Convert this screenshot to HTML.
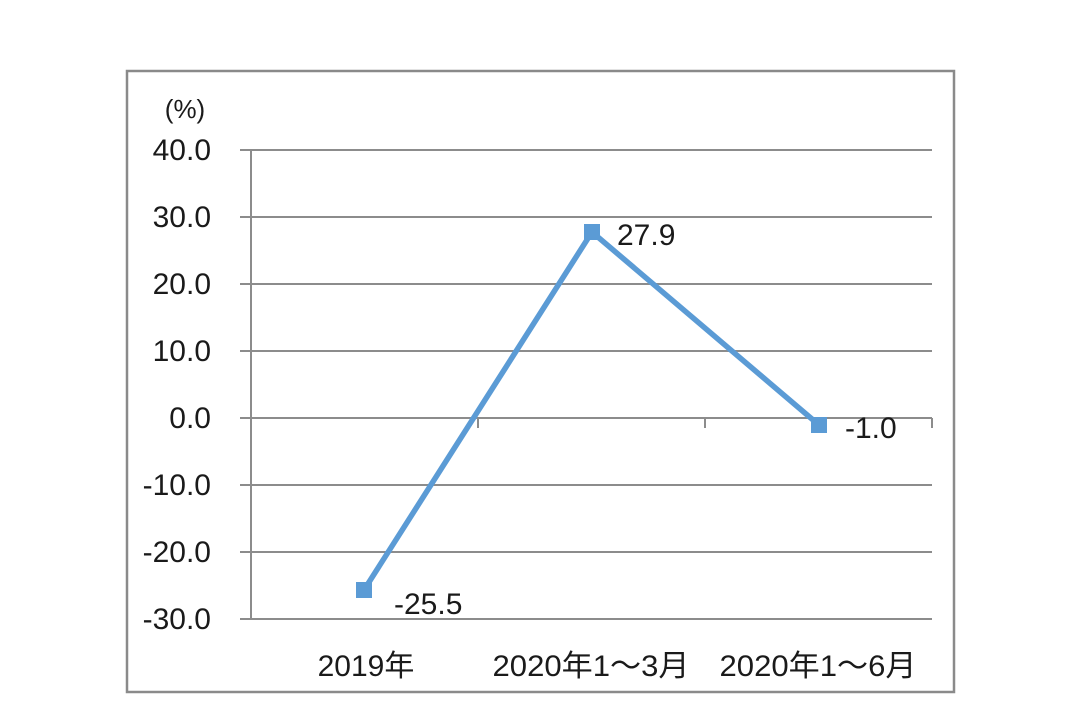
<!DOCTYPE html>
<html><head><meta charset="utf-8"><style>
html,body{margin:0;padding:0;background:#fff;width:1080px;height:705px;overflow:hidden}
svg text{font-family:"Liberation Sans","Noto Sans CJK SC",sans-serif;fill:#1a1a1a}
</style></head><body>
<svg width="1080" height="705" xmlns="http://www.w3.org/2000/svg">
<rect x="127" y="71" width="827" height="621" fill="#fff" stroke="#8a8a8a" stroke-width="2.5"/>
<g stroke="#8c8c8c" stroke-width="2">
<line x1="240" y1="150" x2="932" y2="150"/>
<line x1="240" y1="217" x2="932" y2="217"/>
<line x1="240" y1="284" x2="932" y2="284"/>
<line x1="240" y1="351" x2="932" y2="351"/>
<line x1="240" y1="418" x2="932" y2="418"/>
<line x1="240" y1="485" x2="932" y2="485"/>
<line x1="240" y1="552" x2="932" y2="552"/>
<line x1="240" y1="619" x2="932" y2="619"/>
<line x1="251" y1="150" x2="251" y2="619"/>
<line x1="478" y1="418" x2="478" y2="428"/>
<line x1="705" y1="418" x2="705" y2="428"/>
<line x1="932" y1="418" x2="932" y2="428"/>
</g>
<g font-size="30" text-anchor="end">
<text x="211" y="160">40.0</text>
<text x="211" y="227">30.0</text>
<text x="211" y="294">20.0</text>
<text x="211" y="361">10.0</text>
<text x="211" y="428">0.0</text>
<text x="211" y="495">-10.0</text>
<text x="211" y="562">-20.0</text>
<text x="211" y="629">-30.0</text>
</g>
<text x="185" y="118" font-size="26" text-anchor="middle">(%)</text>
<polyline points="364,590 592,232 819,425" fill="none" stroke="#5b9bd5" stroke-width="5.5" stroke-linejoin="miter"/>
<rect x="356" y="582" width="16" height="16" fill="#5b9bd5"/>
<rect x="584" y="224" width="16" height="16" fill="#5b9bd5"/>
<rect x="811" y="417" width="16" height="16" fill="#5b9bd5"/>
<g font-size="30">
<text x="394" y="614">-25.5</text>
<text x="617" y="245">27.9</text>
<text x="845" y="438">-1.0</text>
</g>
<g font-size="30" text-anchor="middle">
<text x="366" y="676">2019年</text>
<text x="591" y="676" textLength="197" lengthAdjust="spacingAndGlyphs">2020年1～3月</text>
<text x="818" y="676" textLength="197" lengthAdjust="spacingAndGlyphs">2020年1～6月</text>
</g>
</svg>
</body></html>
